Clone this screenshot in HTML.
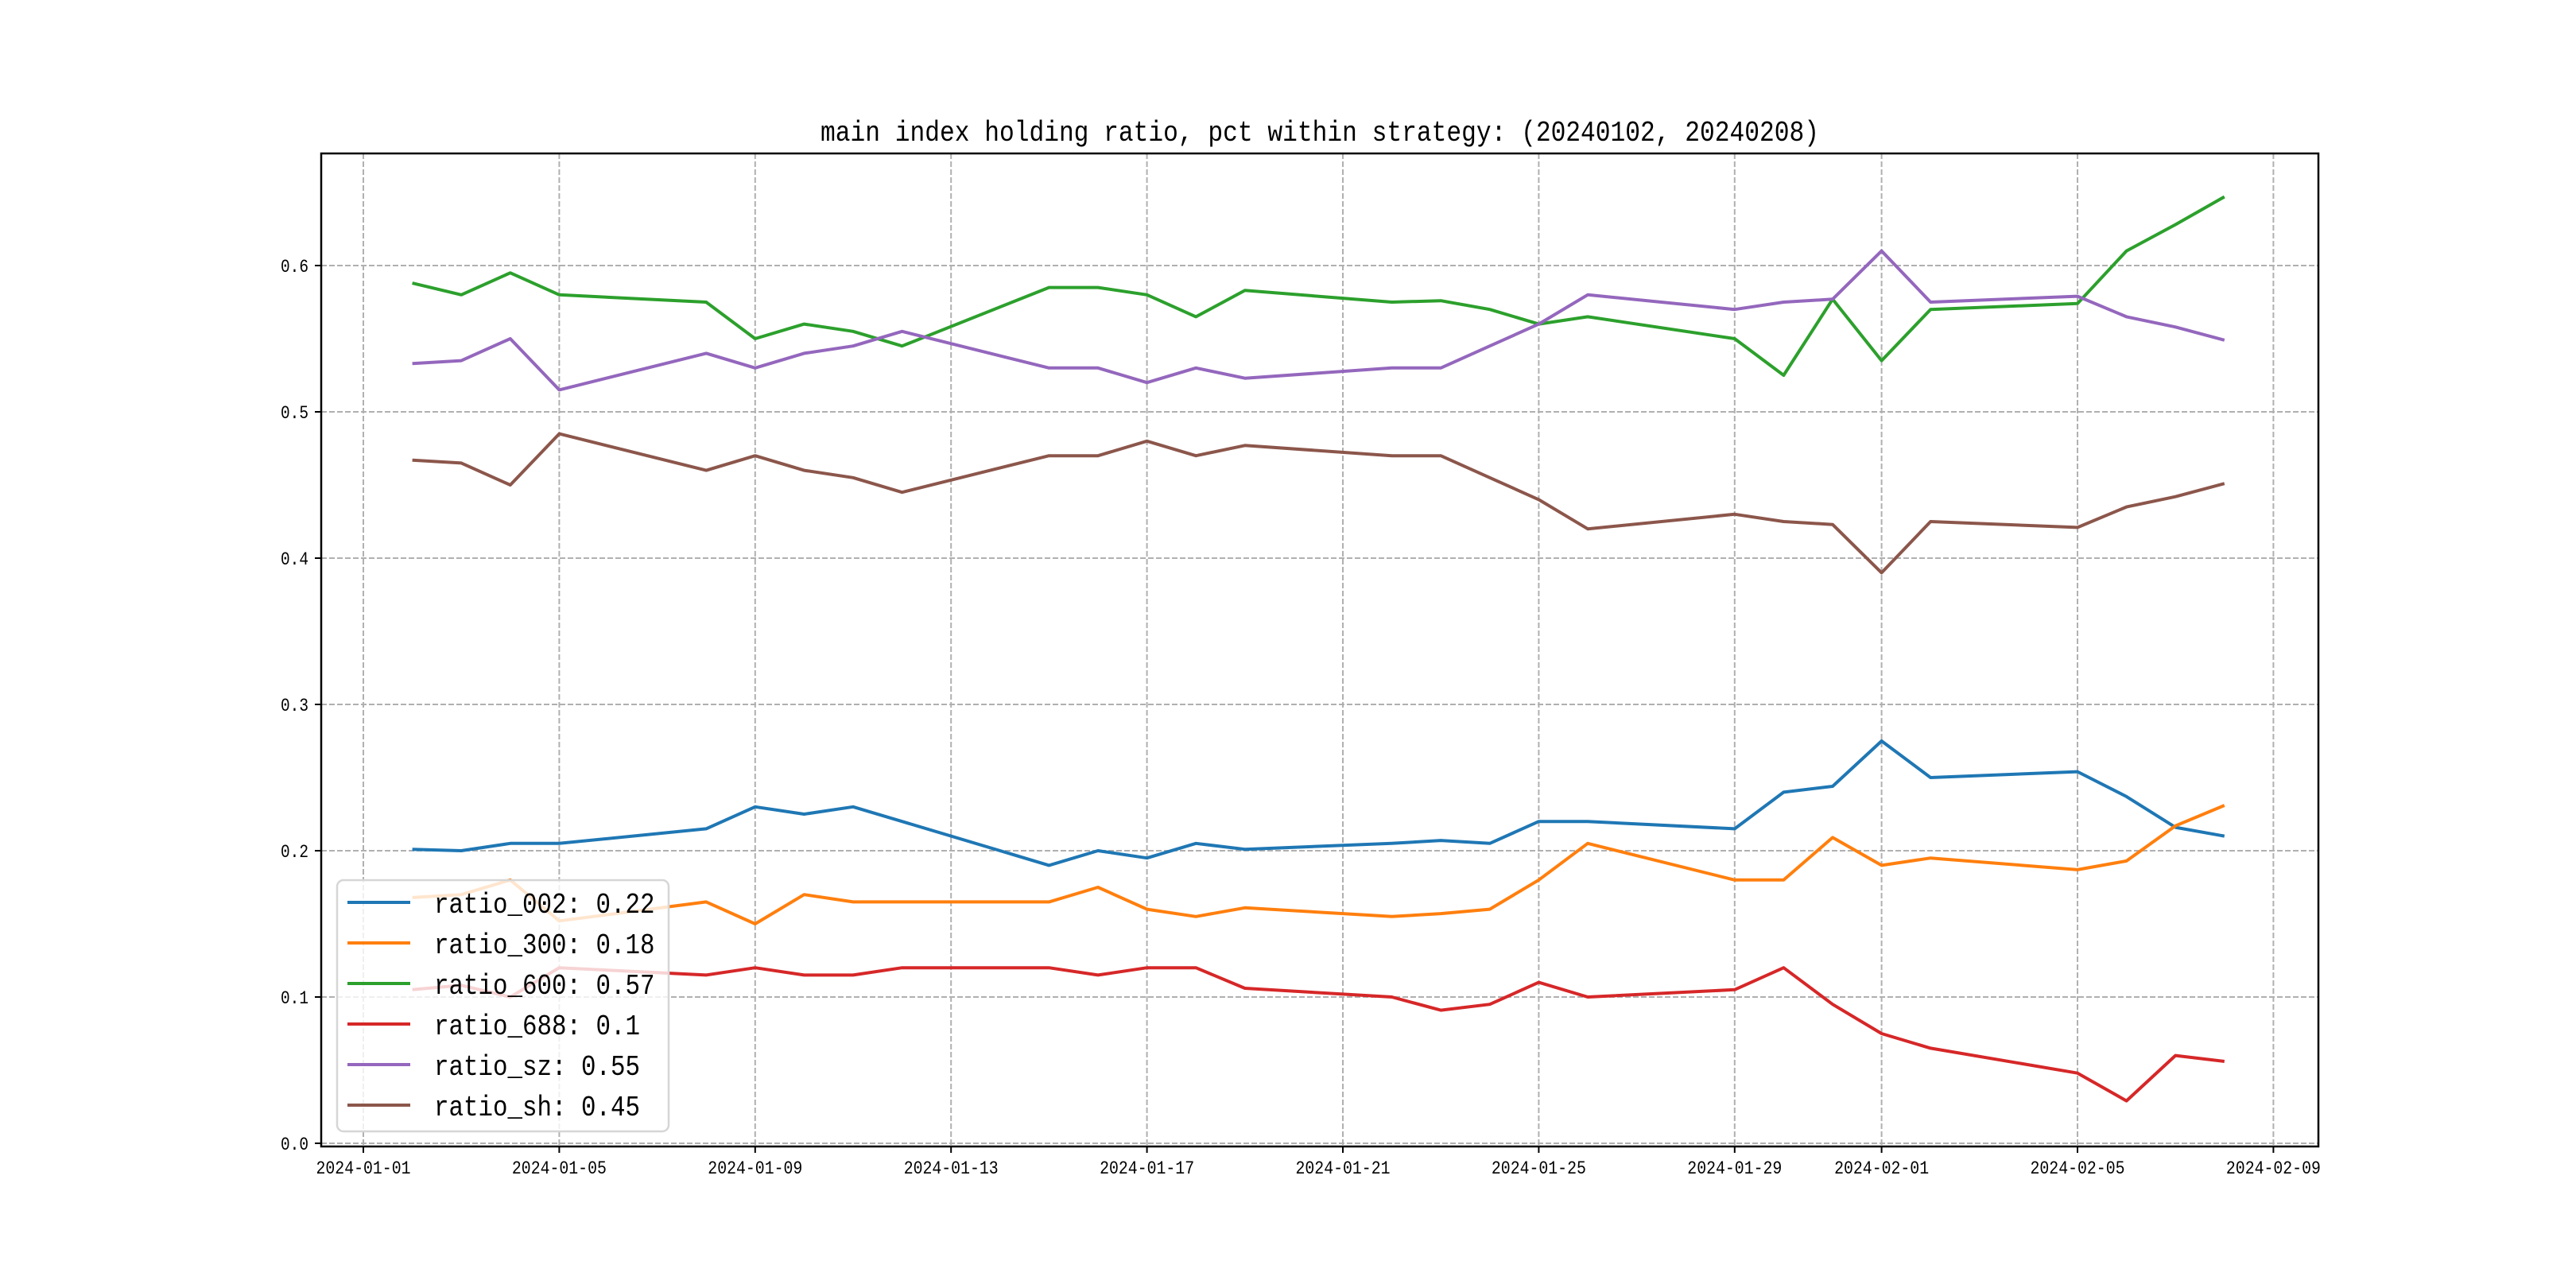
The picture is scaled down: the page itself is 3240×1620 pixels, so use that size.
<!DOCTYPE html>
<html><head><meta charset="utf-8"><style>
html,body{margin:0;padding:0;background:#fff;}
svg{display:block;}
</style></head><body>
<svg id="chart" width="3240" height="1620" viewBox="0 0 3240 1620" xmlns="http://www.w3.org/2000/svg">
<rect width="3240" height="1620" fill="#fff"/>
<g id="grid"></g>
<g id="lines"></g>
<g id="axes"></g>
<g id="legend"></g>
<text x="1660" y="177" text-anchor="middle" font-family="'Liberation Mono','WenQuanYi Zen Hei',monospace" font-size="36" textLength="1256" lengthAdjust="spacingAndGlyphs">main index holding ratio, pct within strategy: (20240102, 20240208)</text>
</svg>
<script>
const dayOffsets = [1,2,3,4,7,8,9,10,11,14,15,16,17,18,21,22,23,24,25,28,29,30,31,32,35,36,37,38];
const ratio002 = [0.201,0.2,0.205,0.205,0.215,0.23,0.225,0.23,0.22,0.19,0.2,0.195,0.205,0.201,0.205,0.207,0.205,0.22,0.22,0.215,0.24,0.244,0.275,0.25,0.254,0.237,0.216,0.21];
const ratio300 = [0.168,0.17,0.18,0.152,0.165,0.15,0.17,0.165,0.165,0.165,0.175,0.16,0.155,0.161,0.155,0.157,0.16,0.18,0.205,0.18,0.18,0.209,0.19,0.195,0.187,0.193,0.217,0.231];
const ratio600 = [0.588,0.58,0.595,0.58,0.575,0.55,0.56,0.555,0.545,0.585,0.585,0.58,0.565,0.583,0.575,0.576,0.57,0.56,0.565,0.55,0.525,0.577,0.535,0.57,0.574,0.61,0.628,0.647];
const ratio688 = [0.105,0.108,0.1,0.12,0.115,0.12,0.115,0.115,0.12,0.12,0.115,0.12,0.12,0.106,0.1,0.091,0.095,0.11,0.1,0.105,0.12,0.095,0.075,0.065,0.048,0.029,0.06,0.056];
const ratioSz = [0.533,0.535,0.55,0.515,0.54,0.53,0.54,0.545,0.555,0.53,0.53,0.52,0.53,0.523,0.53,0.53,0.545,0.56,0.58,0.57,0.575,0.577,0.61,0.575,0.579,0.565,0.558,0.549];
const ratioSh = [0.467,0.465,0.45,0.485,0.46,0.47,0.46,0.455,0.445,0.47,0.47,0.48,0.47,0.477,0.47,0.47,0.455,0.44,0.42,0.43,0.425,0.423,0.39,0.425,0.421,0.435,0.442,0.451];
const seriesNames = ["ratio_002: 0.22","ratio_300: 0.18","ratio_600: 0.57","ratio_688: 0.1","ratio_sz: 0.55","ratio_sh: 0.45"];
const xTickDays = [0,4,8,12,16,20,24,28,31,35,39];
const xTickLabels = ["2024-01-01","2024-01-05","2024-01-09","2024-01-13","2024-01-17","2024-01-21","2024-01-25","2024-01-29","2024-02-01","2024-02-05","2024-02-09"];
const yTicks = [0,0.1,0.2,0.3,0.4,0.5,0.6];
const yTickLabels = ["0.0","0.1","0.2","0.3","0.4","0.5","0.6"];

const NS="http://www.w3.org/2000/svg";
const L=404,R=2916,T=193,B=1442;
const xs=d=>457+d*61.6;
const ys=v=>1438-v*1840;
function mk(tag,attrs,parent){const e=document.createElementNS(NS,tag);for(const k in attrs)e.setAttribute(k,attrs[k]);parent.appendChild(e);return e;}
const grid=document.getElementById('grid'),lines=document.getElementById('lines'),axes=document.getElementById('axes'),legend=document.getElementById('legend');
const gStyle={stroke:'#b0b0b0','stroke-width':2,'stroke-dasharray':'7,3',fill:'none'};
xTickDays.forEach((d,i)=>{
  const x=xs(d);
  const g=mk('line',Object.assign({x1:x,x2:x,y1:T,y2:B},gStyle),grid);
  
  
  const t=mk('line',{x1:x,x2:x,y1:B,y2:B+8,stroke:'#000','stroke-width':2},axes);
  
  
  const tx=mk('text',{x:x,y:1476,'text-anchor':'middle','font-family':"'Liberation Mono',monospace",'font-size':23,textLength:119,lengthAdjust:'spacingAndGlyphs'},axes);
  tx.textContent=xTickLabels[i];
  
  
});
yTicks.forEach((v,i)=>{
  const y=ys(v);
  const g=mk('line',Object.assign({x1:L,x2:R,y1:y,y2:y},gStyle),grid);
  
  
  const t=mk('line',{x1:L-8,x2:L,y1:y,y2:y,stroke:'#000','stroke-width':2},axes);
  
  
  const tx=mk('text',{x:388,y:y+8,'text-anchor':'end','font-family':"'Liberation Mono',monospace",'font-size':23,textLength:35,lengthAdjust:'spacingAndGlyphs'},axes);
  tx.textContent=yTickLabels[i];
  
  
});
const sp=mk('rect',{x:L,y:T,width:R-L,height:B-T,fill:'none',stroke:'#000','stroke-width':2.5},axes);



const allSeries=[ratio002,ratio300,ratio600,ratio688,ratioSz,ratioSh];
const colors=['#1f77b4','#ff7f0e','#2ca02c','#d62728','#9467bd','#8c564b'];
const lineNames=['line-ratio-002','line-ratio-300','line-ratio-600','line-ratio-688','line-ratio-sz','line-ratio-sh'];
allSeries.forEach((s,i)=>{
  const pts=s.map((v,j)=>xs(dayOffsets[j]).toFixed(1)+','+ys(v).toFixed(1)).join(' ');
  const p=mk('polyline',{points:pts,fill:'none',stroke:colors[i],'stroke-width':4,'stroke-linejoin':'round'},lines);
  
  
});
const box=mk('rect',{x:424,y:1107,width:417,height:316,rx:8,fill:'rgba(255,255,255,0.8)',stroke:'#d6d6d6','stroke-width':2.5},legend);


seriesNames.forEach((n,i)=>{
  const yc=1135+i*51;
  const h=mk('line',{x1:437,x2:516,y1:yc,y2:yc,stroke:colors[i],'stroke-width':4},legend);
  
  
  const t=mk('text',{x:546,y:yc+13,'font-family':"'Liberation Mono',monospace",'font-size':36,textLength:n.length*18.5,lengthAdjust:'spacingAndGlyphs'},legend);
  t.textContent=n;
  
  
});
</script>
</body></html>
